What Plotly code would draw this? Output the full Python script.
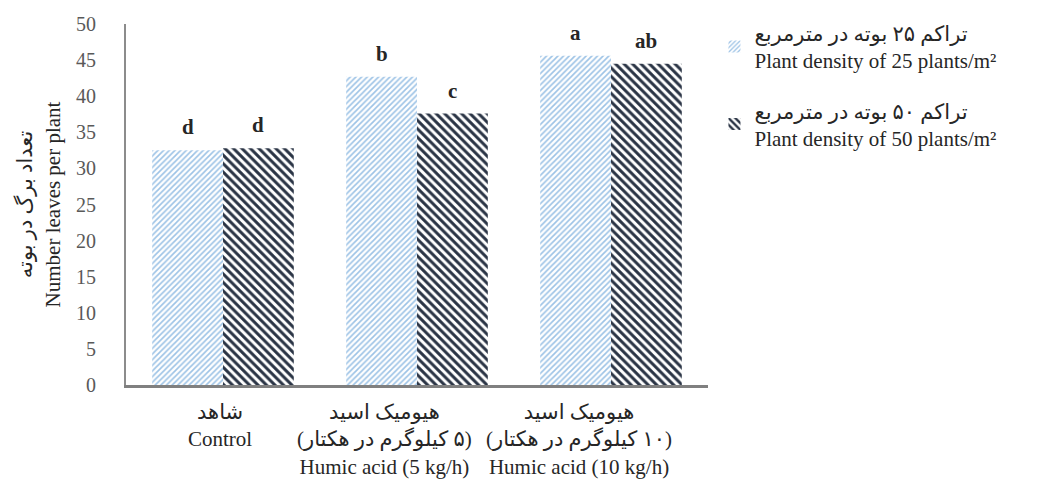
import plotly.graph_objects as go

RLM = "\u200f"

# Treatments (x categories) and their multi-line labels
categories = ["control", "humic5", "humic10"]
category_labels = [
    "شاهد<br>Control",
    "هیومیک اسید<br>" + RLM + "(۵ کیلوگرم در هکتار)" + RLM + "<br>Humic acid (5 kg/h)",
    "هیومیک اسید<br>" + RLM + "(۱۰ کیلوگرم در هکتار)" + RLM + "<br>Humic acid (10 kg/h)",
]

# Number of leaves per plant for the two plant densities
density25 = [32.5, 42.7, 45.6]
density50 = [32.8, 37.6, 44.5]

# Mean-comparison letters above each bar
letters25 = ["d", "b", "a"]
letters50 = ["d", "c", "ab"]

series_names = [
    "تراکم ۲۵ بوته در مترمربع<br>Plant density of 25 plants/m²",
    "تراکم ۵۰ بوته در مترمربع<br>Plant density of 50 plants/m²",
]

FONT = "Liberation Serif, Times New Roman, DejaVu Sans, serif"
BARGAP = 0.27
LABEL_XSHIFT = [-3, -33, -32]   # horizontal nudge of each category caption (px)

fig = go.Figure()
fig.add_trace(go.Bar(
    x=categories, y=density25, name=series_names[0], legendgroup="g25",
    marker=dict(color="white", line=dict(width=0),
                pattern=dict(shape="/", fgcolor="#9DC3E6", bgcolor="white",
                             fgopacity=1, size=4, solidity=0.4)),
))
fig.add_trace(go.Bar(
    x=categories, y=density50, name=series_names[1], legendgroup="g50",
    marker=dict(color="white", line=dict(width=0),
                pattern=dict(shape="\\", fgcolor="#2A3445", bgcolor="white",
                             fgopacity=1, size=6, solidity=0.5)),
))

# Letters placed over the centre of each bar in the group
half = (1 - BARGAP) / 4
for i, (l25, l50) in enumerate(zip(letters25, letters50)):
    for off, val, txt in ((-half, density25[i], l25), (half, density50[i], l50)):
        fig.add_annotation(
            x=i + off, y=val, xref="x", yref="y", text="<b>" + txt + "</b>",
            showarrow=False, yanchor="bottom", yshift=9,
            font=dict(family=FONT, size=21, color="#262626"),
        )

# Category captions under the axis
for i, (cat, lab) in enumerate(zip(categories, category_labels)):
    fig.add_annotation(
        x=cat, y=0, xref="x", yref="paper", text=lab, showarrow=False,
        yanchor="top", yshift=-13, xshift=LABEL_XSHIFT[i], align="center",
        font=dict(family=FONT, size=21, color="#262626"),
    )

fig.update_layout(
    width=1043, height=503,
    margin=dict(l=126, r=335, t=24, b=118, autoexpand=False),
    paper_bgcolor="white", plot_bgcolor="white",
    barmode="group", bargap=BARGAP, bargroupgap=0,
    font=dict(family=FONT, color="#262626"),
    showlegend=True,
    legend=dict(
        xref="container", yref="container", x=0.685, y=0.975,
        xanchor="left", yanchor="top",
        font=dict(family=FONT, size=21, color="#262626"),
        tracegroupgap=20, bgcolor="rgba(0,0,0,0)",
    ),
)

fig.update_xaxes(
    tickmode="array", tickvals=categories, showticklabels=False,
    showline=True, linecolor="#808080", linewidth=3,
    showgrid=False, ticks="",
)
fig.update_yaxes(
    range=[0, 50], dtick=5, tick0=0,
    showline=True, linecolor="#8C8C8C", linewidth=2,
    showgrid=False, ticks="", zeroline=False, ticklabelstandoff=24,
    tickfont=dict(family=FONT, size=20, color="#595959"),
    title=dict(text="تعداد برگ در بوته<br>Number leaves per plant",
               font=dict(family=FONT, size=21, color="#262626"), standoff=10),
)

fig.write_html("out.html")
